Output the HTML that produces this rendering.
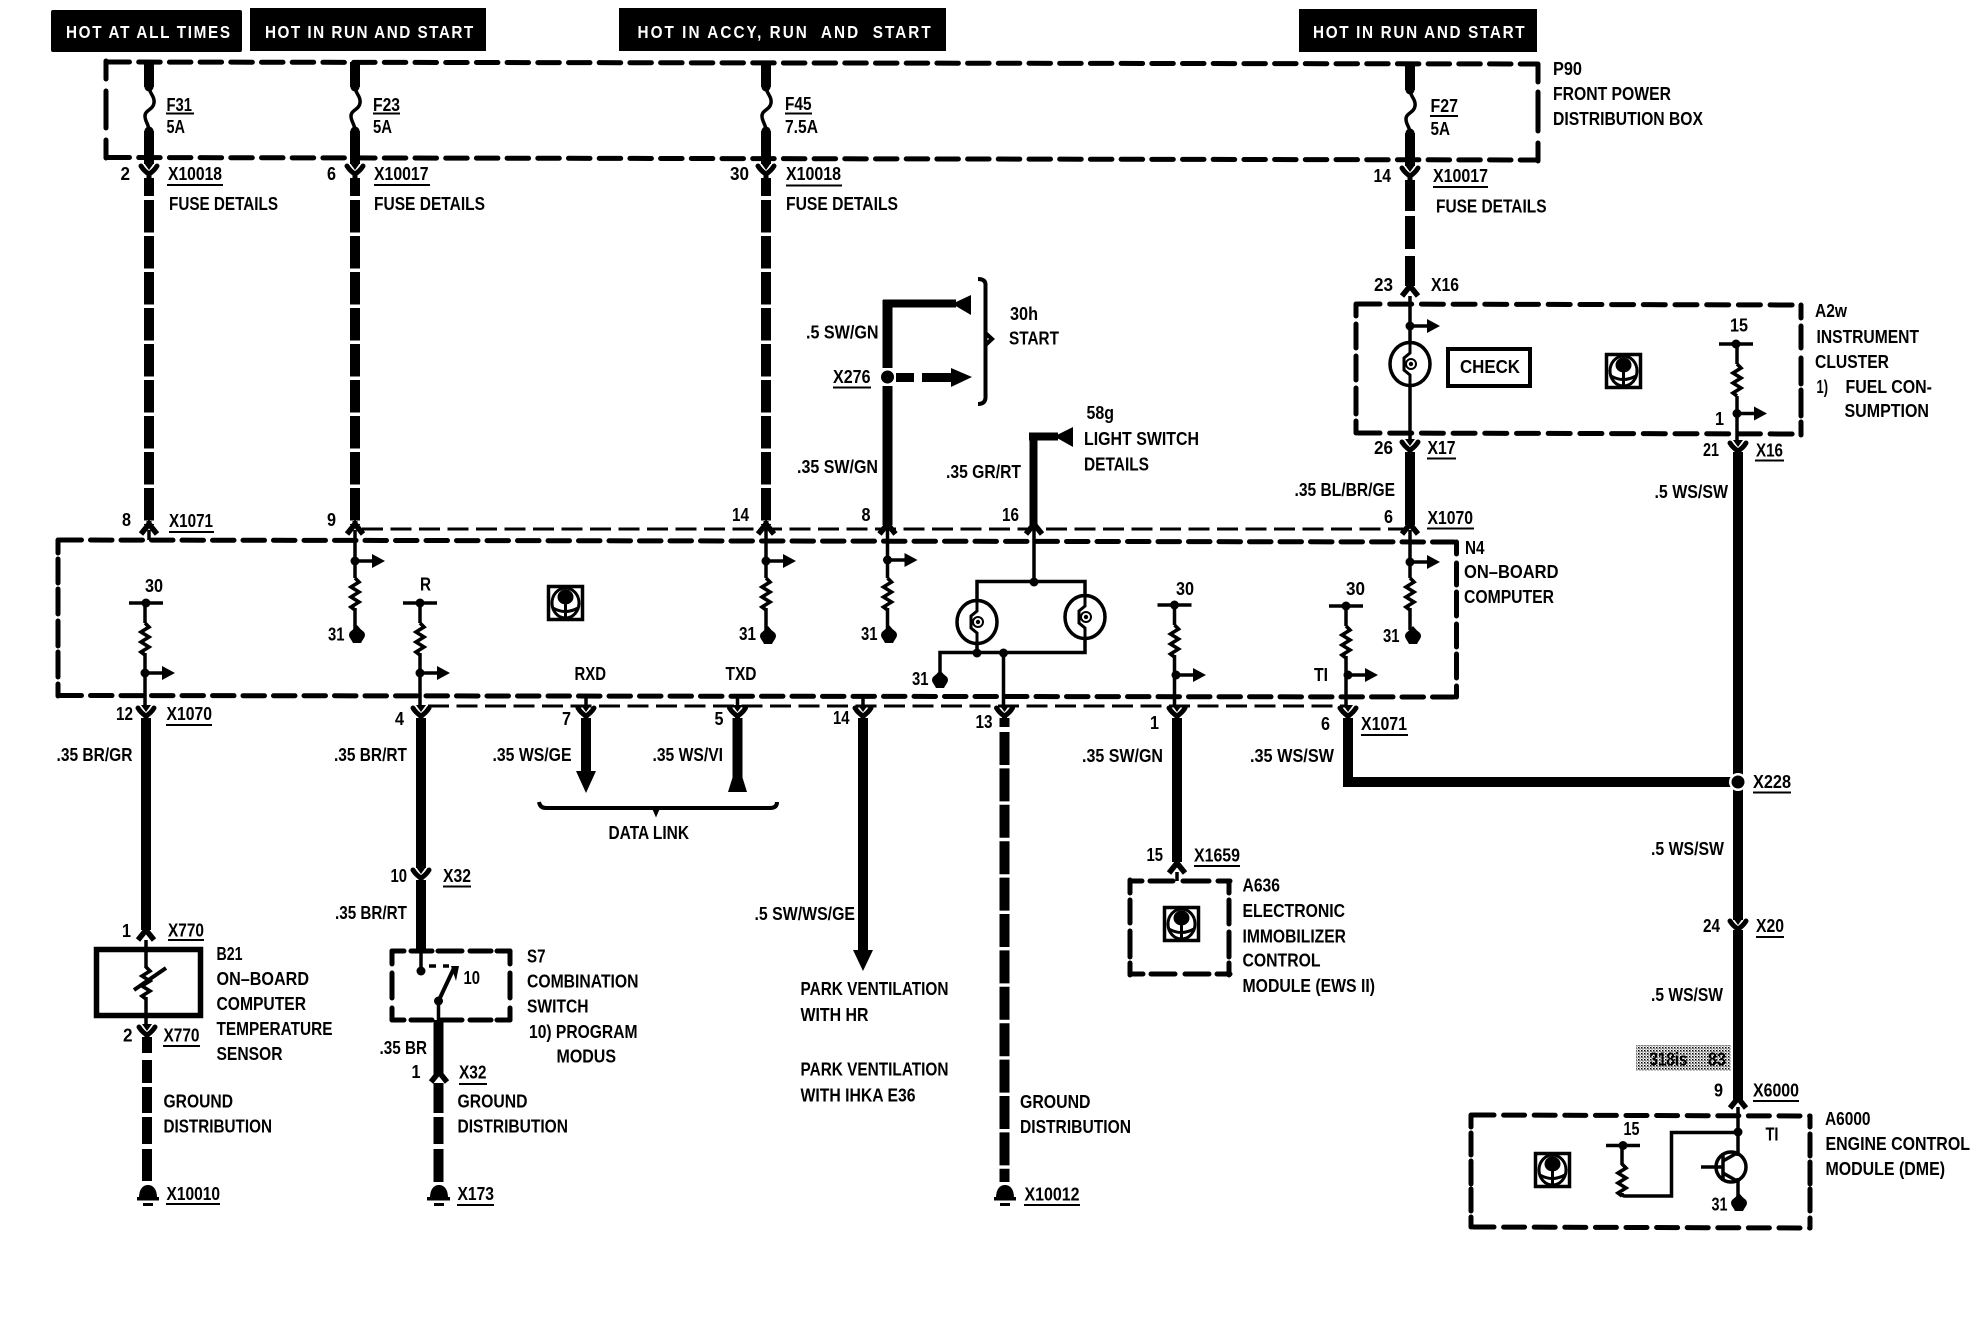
<!DOCTYPE html>
<html><head><meta charset="utf-8"><title>Wiring diagram</title>
<style>
html,body{margin:0;padding:0;background:#fff}
svg{display:block}
text{font-family:"Liberation Sans",sans-serif;font-weight:bold;font-size:18px;fill:#000;white-space:pre}
.w text{fill:#fff;font-size:18px}
.k{stroke:#000;fill:none}
</style></head><body>
<svg xmlns="http://www.w3.org/2000/svg" width="1978" height="1328" viewBox="0 0 1978 1328">
<defs>
<pattern id="ht" width="3" height="3" patternUnits="userSpaceOnUse"><rect width="1.5" height="1.5" fill="#000"/><rect x="1.5" y="1.5" width="1" height="1" fill="#000"/></pattern>
<g id="y"><path d="M-8,1 Q-5,6 0,9 Q5,6 8,1" fill="none" stroke="#000" stroke-width="5" stroke-linecap="round"/><path d="M-5,-2 H5 L0,5 Z" fill="#000"/><rect x="-2.5" y="8" width="5" height="6" fill="#000"/></g>
<g id="a"><path d="M-8,1 L0,-9 L8,1" fill="none" stroke="#000" stroke-width="5.5"/><rect x="-2.5" y="-12" width="5" height="6" fill="#000"/></g>
<g id="r"><path d="M0,0 l4,4 -8,5 8,5 -8,5 8,5 -8,5 4,3" fill="none" stroke="#000" stroke-width="3.6"/></g>
<g id="ar"><circle r="4.5" fill="#000"/><path d="M0,0 H18" stroke="#000" stroke-width="3.5"/><path d="M17,-7 L30,0 L17,7 Z" fill="#000"/></g>
<g id="tp"><path d="M-17,0 H17" stroke="#000" stroke-width="3.5"/><circle r="4.5" fill="#000"/></g>
<g id="gn"><path d="M0,-10 Q3,-6 7,-3 Q9,0 7,3 Q5,6 4,8 H-4 Q-5,6 -7,3 Q-9,0 -7,-3 Q-3,-6 0,-10 Z" fill="#000"/></g>
<g id="bl"><ellipse rx="20" ry="21.5" fill="#fff" stroke="#000" stroke-width="3.5"/><path d="M0,-22 V-11 L-6,-6 V6 L0,11 V22" fill="none" stroke="#000" stroke-width="3"/><circle cx="1" r="5" fill="none" stroke="#000" stroke-width="2"/><circle cx="1" r="2.2" fill="#000"/></g>
<g id="ic"><rect x="1.5" y="1.5" width="34" height="33" fill="#fff" stroke="#000" stroke-width="3.5"/><ellipse cx="18.5" cy="18" rx="13.5" ry="15" fill="none" stroke="#000" stroke-width="3"/><ellipse cx="18.5" cy="12" rx="8" ry="7.5" fill="#000"/><path d="M18.5,18 V33 M6,23 Q18,30 31,23" fill="none" stroke="#000" stroke-width="3"/></g>
</defs>
<rect width="1978" height="1328" fill="#fff"/>

<!-- header bars -->
<rect x="51" y="10" width="191" height="42" rx="2" fill="#000"/>
<rect x="250" y="8" width="236" height="43" fill="#000"/>
<rect x="619" y="8" width="327" height="43" fill="#000"/>
<rect x="1299" y="9" width="238" height="43" fill="#000"/>
<g class="w">
<text transform="translate(66,38) scale(.85,1)" textLength="193">HOT AT ALL TIMES</text>
<text transform="translate(265,38) scale(.85,1)" textLength="245">HOT IN RUN AND START</text>
<text transform="translate(637.5,38) scale(.85,1)" textLength="345">HOT IN ACCY, RUN  AND  START</text>
<text transform="translate(1313,38) scale(.85,1)" textLength="249">HOT IN RUN AND START</text>
</g>

<!-- P90 box -->
<g class="k" stroke-width="5" stroke-linecap="round">
<path d="M108,62 L1538,64" stroke-dasharray="21.5 9.2"/>
<path d="M108,157.5 L1538,160" stroke-dasharray="21.5 9.2"/>
<path d="M106,61 V79 M106,91 V128 M106,140 V158 M1538,65 V82 M1538,92 V131 M1538,143 V161"/>
</g>
<!-- thin lines beside N4 -->
<path class="k" stroke-width="3" d="M362,529 H1404" stroke-dasharray="21 7.5"/>
<path class="k" stroke-width="3" d="M428,706 H1345" stroke-dasharray="21 7.5"/>
<!-- N4 box -->
<g class="k" stroke-width="5" stroke-linecap="round">
<path d="M60,540 L1456,542" stroke-dasharray="21.5 9"/>
<path d="M60,695.5 L1456,697" stroke-dasharray="21.5 9"/>
<path d="M58,540 V553 M58,559 V583 M58,589 V614 M58,621 V646 M58,652 V677 M58,684 V696 M1456.5,542 V554 M1456.5,563 V585 M1456.5,592 V616 M1456.5,624 V647 M1456.5,654 V678 M1456.5,686 V697"/>
</g>
<!-- A2w box -->
<g class="k" stroke-width="5" stroke-linecap="round">
<path d="M1358,304 L1800,305" stroke-dasharray="22 9.7"/>
<path d="M1358,433 L1800,434" stroke-dasharray="22 9.7"/>
<path d="M1356,304 V316 M1356,324 V348 M1356,356 V380 M1356,388 V414 M1356,421 V433 M1801,305 V318 M1801,326 V348 M1801,358 V384 M1801,390 V416 M1801,422 V435"/>
</g>
<!-- A636 box -->
<g class="k" stroke-width="5" stroke-linecap="round">
<path d="M1131,881 H1142 M1150,881 H1173 M1183,881 H1209 M1218,881 H1230 M1131,974 H1143 M1151,974 H1175 M1185,974 H1209 M1217,974 H1230"/>
<path d="M1130,880 V893 M1130,900 V923 M1130,931 V957 M1130,963 V975 M1229,881 V893 M1229,900 V924 M1229,932 V957 M1229,963 V975"/>
</g>
<!-- S7 box -->
<g class="k" stroke-width="5" stroke-linecap="round">
<path d="M392,951 H404 M411,951 H432 M438,951 H462 M470,951 H491 M497,951 H510 M392,1020 H404 M411,1020 H432 M441,1020 H462 M470,1020 H491 M497,1020 H510"/>
<path d="M392,951 V964 M392,973 V998 M392,1008 V1020 M510,951 V964 M510,973 V998 M510,1008 V1020"/>
</g>
<!-- A6000 box -->
<g class="k" stroke-width="5" stroke-linecap="round">
<path d="M1473,1115 L1810,1116" stroke-dasharray="21 9.6"/>
<path d="M1473,1227 L1810,1228" stroke-dasharray="21 9.6"/>
<path d="M1471,1115 V1127 M1471,1133 V1155 M1471,1161 V1184 M1471,1189 V1211 M1471,1217 V1227 M1810,1116 V1127 M1810,1134 V1156 M1810,1162 V1184 M1810,1189 V1211 M1810,1218 V1228"/>
</g>
<!-- B21 box -->
<rect x="96.5" y="949.5" width="104" height="66" fill="none" stroke="#000" stroke-width="5.5"/>

<!-- fused feeds -->
<g class="k" stroke-width="10">
<path d="M149,62 V87 M149,131 V164 M355,62 V87 M355,131 V164 M766,62 V87 M766,131 V164 M1410,64 V90 M1410,133 V166"/>
<path d="M149,178 V196 M355,178 V196 M766,178 V196 M1410,180 V211 M1410,216 V249 M1410,256 V286"/>
<path d="M149,200 V525 M355,200 V525 M766,200 V525" stroke-dasharray="32.5 3.5"/>
</g>
<g class="k" stroke-width="3.5">
<path d="M149,87 C149,93 155,96 154,103 C153,110 145,110 145,116 C145,122 149,124 149,131"/>
<path d="M355,87 C355,93 361,96 360,103 C359,110 351,110 351,116 C351,122 355,124 355,131"/>
<path d="M766,87 C766,93 772,96 771,103 C770,110 762,110 762,116 C762,122 766,124 766,131"/>
<path d="M1410,90 C1410,96 1416,99 1415,106 C1414,113 1406,113 1406,119 C1406,125 1410,127 1410,133"/>
</g>
<g fill="#000"><circle cx="149" cy="87" r="4.5"/><circle cx="149" cy="131" r="4.5"/><circle cx="355" cy="87" r="4.5"/><circle cx="355" cy="131" r="4.5"/><circle cx="766" cy="87" r="4.5"/><circle cx="766" cy="131" r="4.5"/><circle cx="1410" cy="90" r="4.5"/><circle cx="1410" cy="133" r="4.5"/></g>

<!-- Y connectors -->
<use href="#y" x="149" y="165"/><use href="#y" x="355" y="165"/><use href="#y" x="766" y="165"/><use href="#y" x="1410" y="167"/>
<use href="#y" x="1410" y="441"/><use href="#y" x="1738" y="442"/>
<use href="#y" x="146" y="707"/><use href="#y" x="421" y="707"/><use href="#y" x="586" y="707"/><use href="#y" x="737.5" y="707"/><use href="#y" x="863" y="707"/><use href="#y" x="1004.5" y="707"/><use href="#y" x="1177" y="707"/><use href="#y" x="1348" y="707"/>
<use href="#y" x="421" y="869"/><use href="#y" x="147" y="1026"/><use href="#y" x="1738" y="920"/>
<!-- caret connectors -->
<use href="#a" x="149" y="533"/><use href="#a" x="355" y="533"/><use href="#a" x="766" y="533"/><use href="#a" x="887.5" y="533"/><use href="#a" x="1034" y="533"/><use href="#a" x="1410" y="533"/>
<use href="#a" x="1410" y="295"/><use href="#a" x="146" y="939"/><use href="#a" x="439" y="1081"/><use href="#a" x="1177" y="872"/><use href="#a" x="1738" y="1107"/>

<!-- main wires -->
<g class="k" stroke-width="10">
<path d="M1410,452 V525"/>
<path d="M1738,452 V776 M1738,788 V920 M1738,930 V1100"/>
<path d="M146,718 V930"/>
<path d="M421,718 V868 M421,880 V950"/>
<path d="M586,718 V773"/>
<path d="M737.5,718 V778"/>
<path d="M863,718 V952"/>
<path d="M1177,718 V862"/>
<path d="M1348,718 V782 H1731"/>
<path d="M1004.5,718 V727"/>
<path d="M1004.5,732 V1182" stroke-dasharray="33 3.4"/>
<path d="M147,1037 V1053 M147,1060 V1083 M147,1087 V1113 M147,1117 V1144 M147,1149 V1181"/>
<path d="M438.5,1020 V1075 M438.5,1083 V1113 M438.5,1117 V1144 M438.5,1149 V1182"/>
<path d="M887.5,300 V368 M887.5,386 V525"/>
<path d="M883,303.5 H956" stroke-width="8"/>
<path d="M1033.5,525 V432.5 M1029,436.5 H1058" stroke-width="8"/>
</g>
<!-- arrowheads -->
<path d="M576,771 H596 L586,793 Z" fill="#000"/>
<path d="M728,792 H747 L742,776 H733 Z" fill="#000"/>
<path d="M853,950 H873 L863,971 Z" fill="#000"/>
<path d="M971,295 V315 L954,305 V303 Z" fill="#000"/>
<path d="M1073,427 V447 L1057,438 V435 Z" fill="#000"/>
<g fill="#000">
<circle cx="887.5" cy="377" r="6.5"/>
<rect x="896" y="373" width="18" height="9"/>
<rect x="922" y="373" width="32" height="9"/>
<path d="M951,368 L972,377 L951,387 Z"/>
</g>
<circle cx="1738" cy="782" r="9" fill="#fff"/><circle cx="1738" cy="782" r="6.5" fill="#000"/>
<path class="k" stroke-width="4" d="M978,279 Q985,279 985.5,284 V398 Q985,404 978,404 M985.5,333 L992,339 L985.5,345"/>
<path class="k" stroke-width="4" d="M539,802 Q540,808 546,808 H770 Q777,808 777,802"/>
<path d="M656,808 l-3,0 3,7 3,-7 Z" fill="#000" stroke="#000" stroke-width="2"/>

<!-- N4 internals -->
<g class="k" stroke-width="3.5">
<path d="M355,530 V578 M355,608 V630"/>
<path d="M766,530 V578 M766,608 V630"/>
<path d="M887.5,530 V578 M887.5,608 V630"/>
<path d="M1410,530 V578 M1410,608 V630"/>
<path d="M145,605 V623 M145,653 V707"/>
<path d="M420,605 V623 M420,653 V707"/>
<path d="M1174.5,607 V625 M1174.5,655 V707"/>
<path d="M1346,608 V626 M1346,656 V707"/>
<path d="M586,696 V708 M737.5,696 V708 M863,696 V708 M149,530 V540"/>
<path d="M1034,530 V581.5 M977,600 V581.5 H1085 V595 M977,644 V652.5 M1085,639 V652.5 H940 V672 M1003.5,652.5 V708"/>
</g>
<use href="#ar" x="355" y="561"/><use href="#ar" x="766" y="561"/><use href="#ar" x="887.5" y="560"/><use href="#ar" x="1410" y="562"/>
<use href="#r" x="355" y="578"/><use href="#r" x="766" y="578"/><use href="#r" x="887.5" y="578"/><use href="#r" x="1410" y="578"/>
<use href="#gn" x="357" y="635"/><use href="#gn" x="768" y="636"/><use href="#gn" x="889" y="635"/><use href="#gn" x="1413" y="636"/><use href="#gn" x="940" y="680"/>
<use href="#tp" x="146" y="603"/><use href="#r" x="145" y="623"/><use href="#ar" x="145" y="673"/>
<use href="#tp" x="420" y="603"/><use href="#r" x="420" y="623"/><use href="#ar" x="420" y="673"/>
<use href="#tp" x="1174.5" y="605"/><use href="#r" x="1174.5" y="625"/><use href="#ar" x="1176" y="675"/>
<use href="#tp" x="1346" y="606"/><use href="#r" x="1346" y="626"/><use href="#ar" x="1348" y="675"/>
<use href="#bl" x="977" y="622"/><use href="#bl" x="1085" y="617"/>
<g fill="#000"><circle cx="1034" cy="582" r="4.5"/><circle cx="977" cy="653" r="4.5"/><circle cx="1003.5" cy="653" r="4.5"/></g>
<use href="#ic" x="547" y="585"/>

<!-- A2w internals -->
<path class="k" stroke-width="3.5" d="M1410,296 V342 M1410,386 V441 M1737,344 V364 M1737,396 V442"/>
<use href="#ar" x="1410" y="326"/>
<use href="#bl" x="1410" y="364"/>
<rect x="1448" y="349" width="82" height="37" fill="none" stroke="#000" stroke-width="4"/>
<use href="#ic" x="1605" y="353"/>
<use href="#tp" x="1736" y="344"/><use href="#r" x="1737" y="364"/><use href="#ar" x="1737" y="413.5"/>

<!-- B21 internals -->
<path class="k" stroke-width="3.5" d="M146,940 V968 M146,997 V1026"/>
<use href="#r" x="146" y="967"/>
<path class="k" stroke-width="4" d="M134,990 L166,968"/>

<!-- S7 internals -->
<path class="k" stroke-width="3.5" d="M421,950 V970 M438.5,1001 V1020"/>
<circle cx="421" cy="971" r="4.5" fill="#000"/>
<path class="k" stroke-width="4" d="M438.5,1001 L454,968"/>
<circle cx="438.5" cy="1001" r="4.5" fill="#000"/>
<path d="M451,966 L459,966 L456,981 Z" fill="#000"/>
<path class="k" stroke-width="3.5" d="M429,966 H436 M443,966 H449"/>

<!-- A636 -->
<path class="k" stroke-width="3.5" d="M1177,872 V881"/>
<use href="#ic" x="1163" y="906"/>

<!-- A6000 internals -->
<use href="#ic" x="1534" y="1152"/>
<use href="#tp" x="1623" y="1145.5"/>
<path class="k" stroke-width="3.5" d="M1622,1146 V1165 M1622,1193 Q1622,1196 1625,1196 H1671.5 V1132.5 H1738"/>
<use href="#r" x="1622" y="1164"/>
<circle cx="1738" cy="1132" r="4.5" fill="#000"/>
<path class="k" stroke-width="3.5" d="M1738,1107 V1156 M1738,1178 V1203"/>
<circle cx="1731" cy="1167" r="15" fill="none" stroke="#000" stroke-width="3.5"/>
<path class="k" stroke-width="3.5" d="M1701,1167 H1723 M1723,1153 V1181 M1723,1161 L1737,1153 M1723,1173 L1737,1181"/>
<use href="#gn" x="1739" y="1203"/>

<!-- grounds -->
<g fill="#000">
<path d="M139,1198 C139,1189 143,1185 148,1185 C153,1185 157,1189 157,1198 Z"/><rect x="137" y="1197" width="22" height="3.5"/><rect x="143" y="1203" width="10" height="3"/>
<path d="M430,1198 C430,1189 434,1185 439,1185 C444,1185 448,1189 448,1198 Z"/><rect x="427" y="1197" width="23" height="3.5"/><rect x="434" y="1203" width="10" height="3"/>
<path d="M996,1198 C996,1189 1000,1185 1005,1185 C1010,1185 1014,1189 1014,1198 Z"/><rect x="994" y="1197" width="22" height="3.5"/><rect x="1000" y="1203" width="10" height="3"/>
</g>

<!-- gray option box -->
<rect x="1636" y="1045" width="95" height="26" fill="url(#ht)"/>

<!-- underlines -->
<g class="k" stroke-width="2">
<path d="M166,113.5 H194 M373,113.5 H400 M785,113.5 H812 M1430,116 H1458"/>
<path d="M167,185 H223 M374,185 H430 M786,185.5 H842 M1433,187 H1488"/>
<path d="M169,532 H214 M833,387.5 H871 M1427,458.5 H1456 M1755,460.5 H1784 M1427,528.5 H1474"/>
<path d="M166,725 H212 M1361,735 H1408 M1753,792.5 H1791 M443,886.5 H471 M168,940 H204 M163,1046 H200 M459,1084 H487"/>
<path d="M166,1204 H220 M457,1205 H494 M1024,1205 H1080 M1194,866 H1240 M1756,937 H1784 M1753,1101 H1799"/>
</g>

<!-- labels -->
<text x="166.5" y="111" textLength="25.5" lengthAdjust="spacingAndGlyphs">F31</text>
<text x="166.5" y="133" textLength="18.5" lengthAdjust="spacingAndGlyphs">5A</text>
<text x="373" y="111" textLength="27" lengthAdjust="spacingAndGlyphs">F23</text>
<text x="373" y="133" textLength="19" lengthAdjust="spacingAndGlyphs">5A</text>
<text x="785" y="110" textLength="26.5" lengthAdjust="spacingAndGlyphs">F45</text>
<text x="785" y="133" textLength="33" lengthAdjust="spacingAndGlyphs">7.5A</text>
<text x="1430.5" y="112" textLength="27.5" lengthAdjust="spacingAndGlyphs">F27</text>
<text x="1430.5" y="135" textLength="19.5" lengthAdjust="spacingAndGlyphs">5A</text>
<text x="120.5" y="180" textLength="9.5" lengthAdjust="spacingAndGlyphs">2</text>
<text x="327" y="180" textLength="9" lengthAdjust="spacingAndGlyphs">6</text>
<text x="730" y="180" textLength="19" lengthAdjust="spacingAndGlyphs">30</text>
<text x="1373.5" y="182" textLength="17.5" lengthAdjust="spacingAndGlyphs">14</text>
<text x="168" y="180" textLength="54" lengthAdjust="spacingAndGlyphs">X10018</text>
<text x="374" y="180" textLength="54.5" lengthAdjust="spacingAndGlyphs">X10017</text>
<text x="786" y="180" textLength="55" lengthAdjust="spacingAndGlyphs">X10018</text>
<text x="1433" y="182" textLength="55" lengthAdjust="spacingAndGlyphs">X10017</text>
<text x="169" y="210" textLength="109" lengthAdjust="spacingAndGlyphs">FUSE DETAILS</text>
<text x="374" y="210" textLength="111" lengthAdjust="spacingAndGlyphs">FUSE DETAILS</text>
<text x="786" y="210" textLength="112" lengthAdjust="spacingAndGlyphs">FUSE DETAILS</text>
<text x="1436" y="212.5" textLength="110.5" lengthAdjust="spacingAndGlyphs">FUSE DETAILS</text>
<text x="1553" y="75" textLength="29" lengthAdjust="spacingAndGlyphs">P90</text>
<text x="1553" y="100" textLength="118" lengthAdjust="spacingAndGlyphs">FRONT POWER</text>
<text x="1553" y="125" textLength="150" lengthAdjust="spacingAndGlyphs">DISTRIBUTION BOX</text>
<text x="122" y="526" textLength="9" lengthAdjust="spacingAndGlyphs">8</text>
<text x="169" y="527" textLength="44" lengthAdjust="spacingAndGlyphs">X1071</text>
<text x="327" y="526" textLength="9" lengthAdjust="spacingAndGlyphs">9</text>
<text x="732" y="521" textLength="17" lengthAdjust="spacingAndGlyphs">14</text>
<text x="861.5" y="521" textLength="9" lengthAdjust="spacingAndGlyphs">8</text>
<text x="1002" y="521" textLength="17" lengthAdjust="spacingAndGlyphs">16</text>
<text x="1384" y="523" textLength="9" lengthAdjust="spacingAndGlyphs">6</text>
<text x="1427.5" y="524" textLength="45.5" lengthAdjust="spacingAndGlyphs">X1070</text>
<text x="806" y="338.5" textLength="72.5" lengthAdjust="spacingAndGlyphs">.5 SW/GN</text>
<text x="833" y="383" textLength="37.5" lengthAdjust="spacingAndGlyphs">X276</text>
<text x="797" y="473" textLength="81" lengthAdjust="spacingAndGlyphs">.35 SW/GN</text>
<text x="1010" y="320" textLength="28" lengthAdjust="spacingAndGlyphs">30h</text>
<text x="1009" y="344.5" textLength="50" lengthAdjust="spacingAndGlyphs">START</text>
<text x="1086.5" y="419" textLength="27.5" lengthAdjust="spacingAndGlyphs">58g</text>
<text x="1084" y="445" textLength="115" lengthAdjust="spacingAndGlyphs">LIGHT SWITCH</text>
<text x="1084" y="470.5" textLength="65" lengthAdjust="spacingAndGlyphs">DETAILS</text>
<text x="946" y="478" textLength="75" lengthAdjust="spacingAndGlyphs">.35 GR/RT</text>
<text x="1294.5" y="496" textLength="100.5" lengthAdjust="spacingAndGlyphs">.35 BL/BR/GE</text>
<text x="1374" y="291" textLength="19" lengthAdjust="spacingAndGlyphs">23</text>
<text x="1431" y="291" textLength="28" lengthAdjust="spacingAndGlyphs">X16</text>
<text x="1815" y="317" textLength="32" lengthAdjust="spacingAndGlyphs">A2w</text>
<text x="1816.5" y="343" textLength="102.5" lengthAdjust="spacingAndGlyphs">INSTRUMENT</text>
<text x="1815" y="368" textLength="74" lengthAdjust="spacingAndGlyphs">CLUSTER</text>
<text x="1816.5" y="393" textLength="11.5" lengthAdjust="spacingAndGlyphs">1)</text>
<text x="1845.5" y="393" textLength="86.5" lengthAdjust="spacingAndGlyphs">FUEL CON-</text>
<text x="1844.5" y="417" textLength="84.5" lengthAdjust="spacingAndGlyphs">SUMPTION</text>
<text x="1730" y="331.5" textLength="18" lengthAdjust="spacingAndGlyphs">15</text>
<text x="1715" y="425" textLength="9" lengthAdjust="spacingAndGlyphs">1</text>
<text x="1374" y="454" textLength="19" lengthAdjust="spacingAndGlyphs">26</text>
<text x="1427.5" y="454" textLength="28" lengthAdjust="spacingAndGlyphs">X17</text>
<text x="1703" y="456" textLength="16" lengthAdjust="spacingAndGlyphs">21</text>
<text x="1756" y="456.5" textLength="27" lengthAdjust="spacingAndGlyphs">X16</text>
<text x="1654.5" y="498" textLength="73.5" lengthAdjust="spacingAndGlyphs">.5 WS/SW</text>
<text x="1460" y="373" textLength="60" lengthAdjust="spacingAndGlyphs">CHECK</text>
<text x="1465" y="554" textLength="19.5" lengthAdjust="spacingAndGlyphs">N4</text>
<text x="1464" y="578" textLength="94.5" lengthAdjust="spacingAndGlyphs">ON–BOARD</text>
<text x="1464" y="603" textLength="90" lengthAdjust="spacingAndGlyphs">COMPUTER</text>
<text x="145" y="592" textLength="18" lengthAdjust="spacingAndGlyphs">30</text>
<text x="420" y="590.5" textLength="11" lengthAdjust="spacingAndGlyphs">R</text>
<text x="1176" y="595" textLength="18" lengthAdjust="spacingAndGlyphs">30</text>
<text x="1346" y="595" textLength="19" lengthAdjust="spacingAndGlyphs">30</text>
<text x="328" y="640.5" textLength="16.5" lengthAdjust="spacingAndGlyphs">31</text>
<text x="739" y="640" textLength="17" lengthAdjust="spacingAndGlyphs">31</text>
<text x="861" y="640" textLength="16.5" lengthAdjust="spacingAndGlyphs">31</text>
<text x="1383" y="642" textLength="16.5" lengthAdjust="spacingAndGlyphs">31</text>
<text x="912" y="685" textLength="16.5" lengthAdjust="spacingAndGlyphs">31</text>
<text x="574.5" y="680" textLength="31.5" lengthAdjust="spacingAndGlyphs">RXD</text>
<text x="725.5" y="680" textLength="31" lengthAdjust="spacingAndGlyphs">TXD</text>
<text x="1314" y="681" textLength="14" lengthAdjust="spacingAndGlyphs">TI</text>
<text x="116" y="720" textLength="17" lengthAdjust="spacingAndGlyphs">12</text>
<text x="166.5" y="720" textLength="45.5" lengthAdjust="spacingAndGlyphs">X1070</text>
<text x="395" y="725" textLength="9" lengthAdjust="spacingAndGlyphs">4</text>
<text x="562" y="725" textLength="9" lengthAdjust="spacingAndGlyphs">7</text>
<text x="714.5" y="725" textLength="9" lengthAdjust="spacingAndGlyphs">5</text>
<text x="833" y="724" textLength="16.5" lengthAdjust="spacingAndGlyphs">14</text>
<text x="975.5" y="728" textLength="17" lengthAdjust="spacingAndGlyphs">13</text>
<text x="1150" y="729" textLength="9" lengthAdjust="spacingAndGlyphs">1</text>
<text x="1321" y="730" textLength="9" lengthAdjust="spacingAndGlyphs">6</text>
<text x="1361" y="730" textLength="46" lengthAdjust="spacingAndGlyphs">X1071</text>
<text x="56.5" y="761" textLength="76" lengthAdjust="spacingAndGlyphs">.35 BR/GR</text>
<text x="334" y="761" textLength="73" lengthAdjust="spacingAndGlyphs">.35 BR/RT</text>
<text x="492.5" y="761" textLength="79" lengthAdjust="spacingAndGlyphs">.35 WS/GE</text>
<text x="652.5" y="761" textLength="70.5" lengthAdjust="spacingAndGlyphs">.35 WS/VI</text>
<text x="1082" y="762" textLength="81" lengthAdjust="spacingAndGlyphs">.35 SW/GN</text>
<text x="1250" y="762" textLength="84" lengthAdjust="spacingAndGlyphs">.35 WS/SW</text>
<text x="1753" y="788" textLength="38" lengthAdjust="spacingAndGlyphs">X228</text>
<text x="608.5" y="839" textLength="80.5" lengthAdjust="spacingAndGlyphs">DATA LINK</text>
<text x="1651" y="855" textLength="73" lengthAdjust="spacingAndGlyphs">.5 WS/SW</text>
<text x="1703" y="932" textLength="17" lengthAdjust="spacingAndGlyphs">24</text>
<text x="1756" y="932" textLength="28" lengthAdjust="spacingAndGlyphs">X20</text>
<text x="1651" y="1001" textLength="72" lengthAdjust="spacingAndGlyphs">.5 WS/SW</text>
<text x="1649.5" y="1065.5" textLength="38" lengthAdjust="spacingAndGlyphs">318is</text>
<text x="1708" y="1065.5" textLength="18" lengthAdjust="spacingAndGlyphs">83</text>
<text x="1714" y="1096.5" textLength="9" lengthAdjust="spacingAndGlyphs">9</text>
<text x="1753" y="1096.5" textLength="46" lengthAdjust="spacingAndGlyphs">X6000</text>
<text x="1825" y="1125" textLength="45.5" lengthAdjust="spacingAndGlyphs">A6000</text>
<text x="1825.5" y="1150" textLength="144.5" lengthAdjust="spacingAndGlyphs">ENGINE CONTROL</text>
<text x="1825.5" y="1175" textLength="119.5" lengthAdjust="spacingAndGlyphs">MODULE (DME)</text>
<text x="1623.5" y="1135" textLength="16" lengthAdjust="spacingAndGlyphs">15</text>
<text x="1765.5" y="1140.5" textLength="13" lengthAdjust="spacingAndGlyphs">TI</text>
<text x="1711.5" y="1210.5" textLength="16" lengthAdjust="spacingAndGlyphs">31</text>
<text x="390.5" y="882" textLength="16.5" lengthAdjust="spacingAndGlyphs">10</text>
<text x="443" y="882" textLength="28" lengthAdjust="spacingAndGlyphs">X32</text>
<text x="335" y="919" textLength="72" lengthAdjust="spacingAndGlyphs">.35 BR/RT</text>
<text x="122" y="937" textLength="9" lengthAdjust="spacingAndGlyphs">1</text>
<text x="168" y="936.5" textLength="36" lengthAdjust="spacingAndGlyphs">X770</text>
<text x="216.5" y="960" textLength="26" lengthAdjust="spacingAndGlyphs">B21</text>
<text x="216.5" y="985" textLength="92.5" lengthAdjust="spacingAndGlyphs">ON–BOARD</text>
<text x="216.5" y="1010" textLength="89.5" lengthAdjust="spacingAndGlyphs">COMPUTER</text>
<text x="216.5" y="1035" textLength="116" lengthAdjust="spacingAndGlyphs">TEMPERATURE</text>
<text x="216.5" y="1060" textLength="66" lengthAdjust="spacingAndGlyphs">SENSOR</text>
<text x="123" y="1041.5" textLength="9.5" lengthAdjust="spacingAndGlyphs">2</text>
<text x="163.5" y="1041.5" textLength="36" lengthAdjust="spacingAndGlyphs">X770</text>
<text x="163.5" y="1107.5" textLength="69.5" lengthAdjust="spacingAndGlyphs">GROUND</text>
<text x="163.5" y="1132.5" textLength="108.5" lengthAdjust="spacingAndGlyphs">DISTRIBUTION</text>
<text x="166.5" y="1200" textLength="53.5" lengthAdjust="spacingAndGlyphs">X10010</text>
<text x="527" y="962.5" textLength="18.5" lengthAdjust="spacingAndGlyphs">S7</text>
<text x="527" y="987.5" textLength="111.5" lengthAdjust="spacingAndGlyphs">COMBINATION</text>
<text x="527" y="1012.5" textLength="61.5" lengthAdjust="spacingAndGlyphs">SWITCH</text>
<text x="529" y="1038" textLength="108.5" lengthAdjust="spacingAndGlyphs">10) PROGRAM</text>
<text x="556.5" y="1062.5" textLength="59.5" lengthAdjust="spacingAndGlyphs">MODUS</text>
<text x="463.5" y="984" textLength="16.5" lengthAdjust="spacingAndGlyphs">10</text>
<text x="379.5" y="1054" textLength="47.5" lengthAdjust="spacingAndGlyphs">.35 BR</text>
<text x="411.5" y="1078" textLength="9" lengthAdjust="spacingAndGlyphs">1</text>
<text x="459" y="1078.5" textLength="27.5" lengthAdjust="spacingAndGlyphs">X32</text>
<text x="457.5" y="1107.5" textLength="70" lengthAdjust="spacingAndGlyphs">GROUND</text>
<text x="457.5" y="1132.5" textLength="110.5" lengthAdjust="spacingAndGlyphs">DISTRIBUTION</text>
<text x="457.5" y="1200" textLength="36.5" lengthAdjust="spacingAndGlyphs">X173</text>
<text x="754.5" y="920" textLength="100.5" lengthAdjust="spacingAndGlyphs">.5 SW/WS/GE</text>
<text x="800.5" y="995" textLength="148" lengthAdjust="spacingAndGlyphs">PARK VENTILATION</text>
<text x="800.5" y="1021" textLength="68" lengthAdjust="spacingAndGlyphs">WITH HR</text>
<text x="800.5" y="1075.5" textLength="148" lengthAdjust="spacingAndGlyphs">PARK VENTILATION</text>
<text x="800.5" y="1101.5" textLength="115" lengthAdjust="spacingAndGlyphs">WITH IHKA E36</text>
<text x="1020" y="1108" textLength="70.5" lengthAdjust="spacingAndGlyphs">GROUND</text>
<text x="1020" y="1133" textLength="111" lengthAdjust="spacingAndGlyphs">DISTRIBUTION</text>
<text x="1024.5" y="1200.5" textLength="55" lengthAdjust="spacingAndGlyphs">X10012</text>
<text x="1146.5" y="861" textLength="16.5" lengthAdjust="spacingAndGlyphs">15</text>
<text x="1194" y="861.5" textLength="46" lengthAdjust="spacingAndGlyphs">X1659</text>
<text x="1242.5" y="891.5" textLength="37.5" lengthAdjust="spacingAndGlyphs">A636</text>
<text x="1242.5" y="917" textLength="102.5" lengthAdjust="spacingAndGlyphs">ELECTRONIC</text>
<text x="1242.5" y="942.5" textLength="103.5" lengthAdjust="spacingAndGlyphs">IMMOBILIZER</text>
<text x="1242.5" y="966.5" textLength="78" lengthAdjust="spacingAndGlyphs">CONTROL</text>
<text x="1242.5" y="992" textLength="132.5" lengthAdjust="spacingAndGlyphs">MODULE (EWS II)</text>
</svg>
</body></html>
